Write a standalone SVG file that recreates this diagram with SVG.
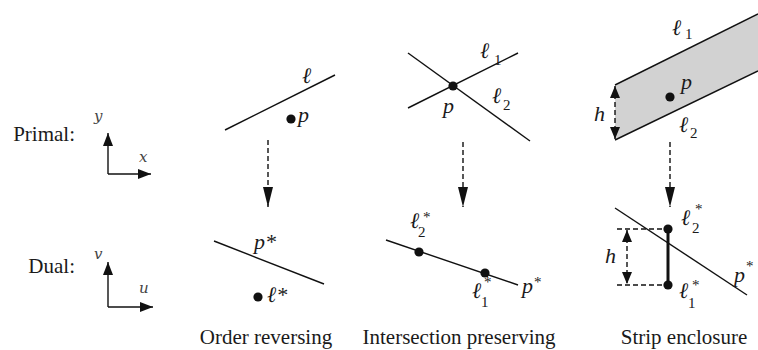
<svg xmlns="http://www.w3.org/2000/svg" width="758" height="350" viewBox="0 0 758 350">
<style>
.t{font-family:"Liberation Serif","DejaVu Serif",serif;fill:#1a1a1a}
.cap{font-size:21px}
.m{font-style:italic;font-size:22px}
.s{font-size:15px}
.sc{font-family:"DejaVu Serif","Liberation Serif",serif;font-style:italic;font-size:15px;fill:#444}
.ln{stroke:#111;stroke-width:1.4;fill:none}
.ds{stroke:#111;stroke-width:1.4;fill:none;stroke-dasharray:5 3}
.pt{fill:#111}
</style>
<defs>
<marker id="ax" markerUnits="userSpaceOnUse" markerWidth="14" markerHeight="10" refX="13" refY="5" orient="auto"><path d="M0,0 L13,5 L0,10 z" fill="#111"/></marker>
<marker id="big" markerUnits="userSpaceOnUse" markerWidth="21" markerHeight="10" refX="20" refY="5" orient="auto"><path d="M0,0 L20,5 L0,10 z" fill="#111"/></marker>
<marker id="hm" markerUnits="userSpaceOnUse" markerWidth="13" markerHeight="10" refX="12" refY="5" orient="auto-start-reverse"><path d="M0,0 L12,5 L0,10 z" fill="#111"/></marker>
</defs>

<g id="labels">
<text class="t cap" x="75" y="141" text-anchor="end">Primal:</text>
<text class="t cap" x="75" y="273" text-anchor="end">Dual:</text>
<text class="t cap" x="266" y="344" text-anchor="middle">Order reversing</text>
<text class="t cap" x="459" y="344" text-anchor="middle">Intersection preserving</text>
<text class="t cap" x="684" y="344" text-anchor="middle">Strip enclosure</text>
</g>

<g id="axes-primal">
<line class="ln" x1="108" y1="174" x2="108" y2="133" marker-end="url(#ax)"/>
<line class="ln" x1="108" y1="174" x2="151" y2="174" marker-end="url(#ax)"/>
<text class="sc" x="94" y="121">y</text>
<text class="sc" x="139" y="162">x</text>
</g>
<g id="axes-dual">
<line class="ln" x1="108" y1="307" x2="108" y2="262" marker-end="url(#ax)"/>
<line class="ln" x1="108" y1="307" x2="153" y2="307" marker-end="url(#ax)"/>
<text class="sc" x="94" y="259">v</text>
<text class="sc" x="139" y="293">u</text>
</g>

<g id="panel1-primal">
<line class="ln" x1="225" y1="130" x2="335" y2="75"/>
<circle class="pt" cx="291" cy="119" r="4.6"/>
<text class="t m" x="302" y="83">ℓ</text>
<text class="t m" x="298" y="122">p</text>
</g>
<g id="panel1-dual">
<line class="ln" x1="214" y1="241" x2="324" y2="284"/>
<circle class="pt" cx="258" cy="297" r="4.6"/>
<text class="t m" x="254" y="249">p*</text>
<text class="t m" x="267" y="302">ℓ*</text>
</g>

<g id="panel2-primal">
<line class="ln" x1="408" y1="108" x2="518" y2="53"/>
<line class="ln" x1="408" y1="53" x2="530" y2="141"/>
<circle class="pt" cx="453" cy="86" r="4.6"/>
<text class="t m" x="480" y="58">ℓ</text><text class="t s" x="494" y="65">1</text>
<text class="t m" x="492" y="103">ℓ</text><text class="t s" x="503" y="110">2</text>
<text class="t m" x="443" y="113">p</text>
</g>
<g id="panel2-dual">
<line class="ln" x1="386" y1="240" x2="518" y2="285"/>
<circle class="pt" cx="419" cy="252" r="4.6"/>
<circle class="pt" cx="485" cy="273" r="4.6"/>
<text class="t m" x="410" y="228">ℓ</text><text class="t s" x="418" y="237">2</text><text class="t s" x="423" y="222">*</text>
<text class="t m" x="472" y="298">ℓ</text><text class="t s" x="481" y="307">1</text><text class="t s" x="484" y="287">*</text>
<text class="t m" x="522" y="293">p</text><text class="t s" x="534" y="287">*</text>
</g>

<g id="panel3-primal">
<polygon points="615,85 758,14 758,71 615,140" fill="#d2d2d2"/>
<line class="ln" x1="615" y1="85" x2="758" y2="14"/>
<line class="ln" x1="615" y1="140" x2="758" y2="71"/>
<circle class="pt" cx="670" cy="97" r="4.6"/>
<text class="t m" x="681" y="89">p</text>
<text class="t m" x="672" y="35">ℓ</text><text class="t s" x="685" y="39">1</text>
<text class="t m" x="679" y="132">ℓ</text><text class="t s" x="690" y="138">2</text>
<text class="t m" x="594" y="121">h</text>
</g>
<g id="panel3-dual">
<line class="ln" x1="615" y1="208" x2="747" y2="295"/>
<line class="ds" x1="617" y1="229" x2="668" y2="229"/>
<line class="ds" x1="617" y1="285" x2="668" y2="285"/>
<line x1="668" y1="229" x2="668" y2="285" stroke="#111" stroke-width="3"/>
<circle class="pt" cx="668" cy="229" r="4.6"/>
<circle class="pt" cx="668" cy="285" r="4.6"/>
<text class="t m" x="605" y="263">h</text>
<text class="t m" x="681" y="225">ℓ</text><text class="t s" x="692" y="233">2</text><text class="t s" x="695" y="214">*</text>
<text class="t m" x="679" y="298">ℓ</text><text class="t s" x="688" y="308">1</text><text class="t s" x="692" y="290">*</text>
<text class="t m" x="734" y="282">p</text><text class="t s" x="746" y="271">*</text>
</g>

<g id="connectors">
<line class="ds" x1="268" y1="140" x2="268" y2="207" marker-end="url(#big)"/>
<line class="ds" x1="463" y1="142" x2="463" y2="207" marker-end="url(#big)"/>
<line class="ds" x1="670" y1="142" x2="670" y2="207" marker-end="url(#big)"/>
<line class="ds" x1="615" y1="86" x2="615" y2="139" marker-start="url(#hm)" marker-end="url(#hm)"/>
<line class="ds" x1="627" y1="230" x2="627" y2="284" marker-start="url(#hm)" marker-end="url(#hm)"/>
</g>
</svg>
